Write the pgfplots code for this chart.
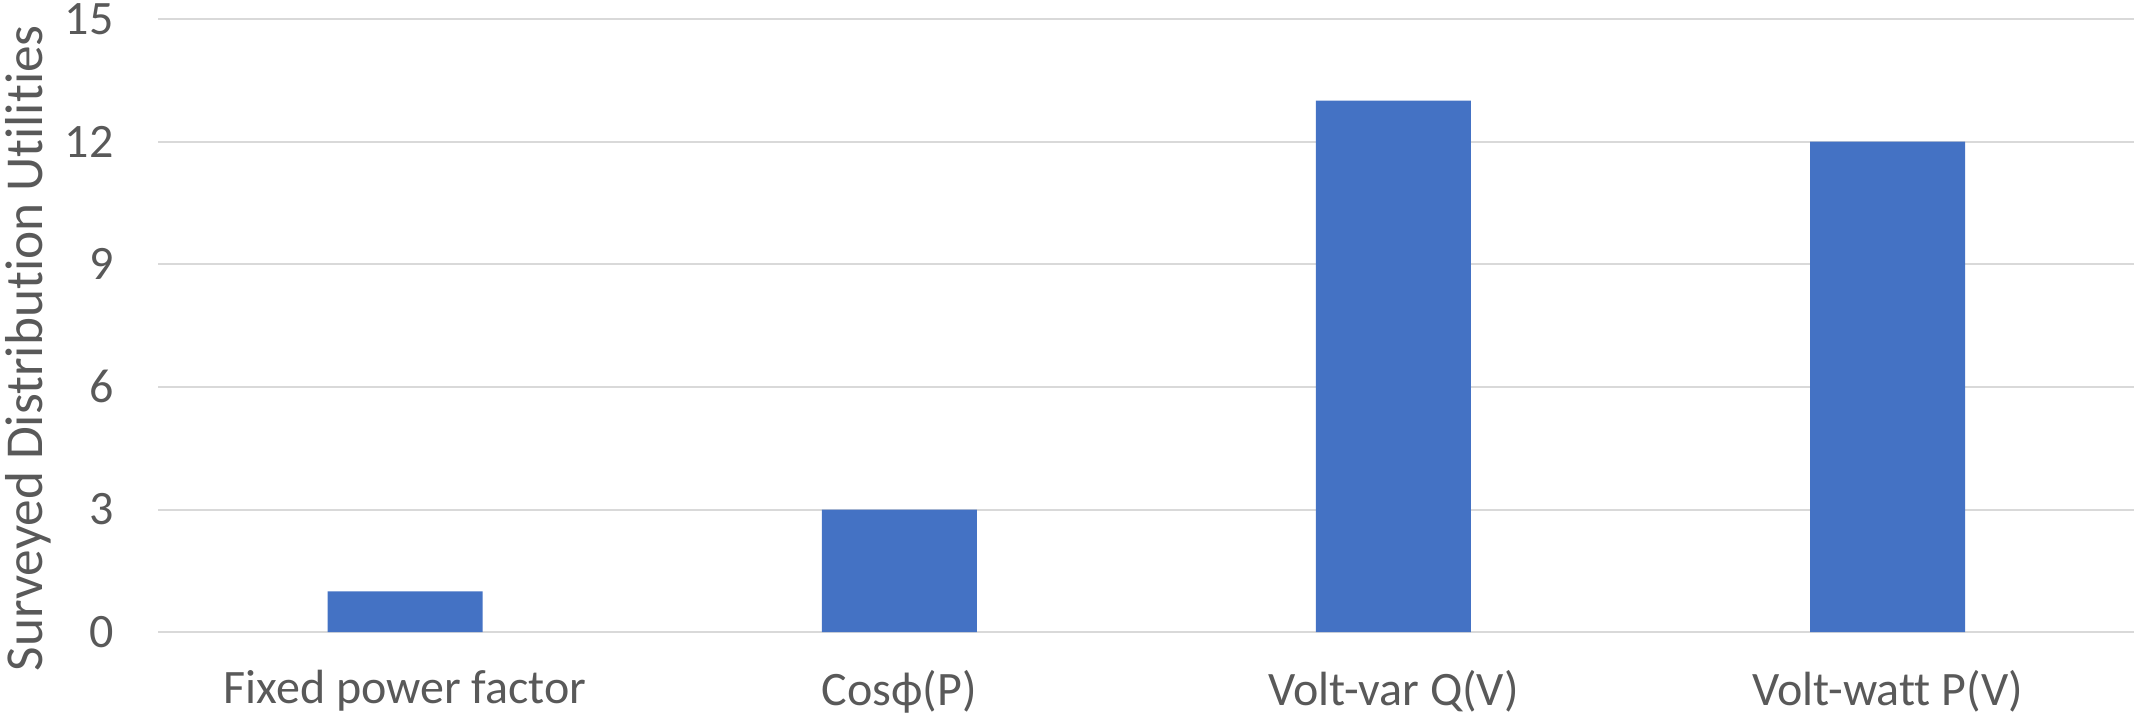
\documentclass[border=0pt]{standalone}
\usepackage{fontspec}
\setmainfont{Carlito}[Ligatures={NoCommon}]
\usepackage{pgfplots}
\pgfplotsset{compat=1.18}
\definecolor{barblue}{HTML}{4472C4}
\definecolor{gridgray}{HTML}{D9D9D9}
\definecolor{textgray}{HTML}{595959}
\begin{document}
\begin{tikzpicture}
\useasboundingbox (0,0) rectangle (800pt,270.4pt);
\begin{axis}[
  at={(59.25pt,33.4pt)}, anchor=south west,
  scale only axis,
  width=741pt, height=229.9pt,
  xmin=-0.5, xmax=3.5,
  ymin=0, ymax=15,
  ytick={0,3,6,9,12,15},
  xtick=data,
  xticklabels={Fixed power factor, Cos\symbol{"03D5}(P), Volt-var Q(V), Volt-watt P(V)},
  axis y line*=left,
  y axis line style={draw=none},
  axis x line*=bottom,
  x axis line style={gridgray, line width=0.75pt, -},
  ymajorgrids,
  grid style={gridgray, line width=0.75pt},
  major tick length=0pt,
  tick style={draw=none},
  tick label style={text=textgray, font=\fontsize{18}{21}\selectfont},
  /pgf/number format/assume math mode=true,
  yticklabel style={anchor=east, inner sep=0pt, xshift=-16.5pt},
  xticklabel style={anchor=north, inner sep=0pt, yshift=-14pt},
  ylabel={Surveyed Distribution Utilities},
  every axis y label/.style={at={(axis description cs:-0.0655,0.463)}, rotate=90, anchor=center, text=textgray, font=\fontsize{20}{24}\selectfont},
  ybar, bar width=58.1pt,
  clip=false,
]
\addplot[fill=barblue, draw=none] coordinates {(0,1) (1,3) (2,13) (3,12)};
\end{axis}
\end{tikzpicture}
\end{document}
